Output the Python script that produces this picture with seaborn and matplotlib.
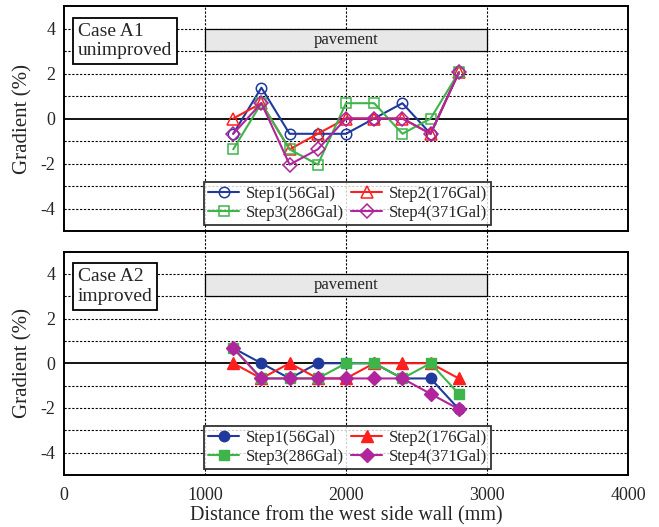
import numpy as np
import pandas as pd
import matplotlib.pyplot as plt
import seaborn as sns
from matplotlib.patches import Rectangle

sns.set_style('white')
plt.rcParams['font.family'] = ['Liberation Serif', 'DejaVu Serif']
plt.rcParams['axes.unicode_minus'] = False

# measuring points (mm from the west side wall)
distance = [1200, 1400, 1600, 1800, 2000, 2200, 2400, 2600, 2800]
steps = ['Step1(56Gal)', 'Step2(176Gal)', 'Step3(286Gal)', 'Step4(371Gal)']

# Case A1 unimproved, gradient (%)
a1_step1 = [-0.68, 1.37, -0.68, -0.68, -0.68, 0.0, 0.68, -0.68, 2.05]
a1_step2 = [0.0, 0.68, -1.37, -0.68, 0.0, 0.0, 0.0, -0.68, 2.05]
a1_step3 = [-1.37, 0.68, -1.37, -2.05, 0.68, 0.68, -0.68, 0.0, 2.05]
a1_step4 = [-0.68, 0.68, -2.05, -1.37, 0.0, 0.0, 0.0, -0.68, 2.05]

# Case A2 improved, gradient (%)
a2_step1 = [0.68, 0.0, -0.68, 0.0, 0.0, 0.0, -0.68, -0.68, -2.05]
a2_step2 = [0.0, -0.68, 0.0, -0.68, -0.68, 0.0, 0.0, 0.0, -0.68]
a2_step3 = [0.68, -0.68, -0.68, -0.68, 0.0, 0.0, -0.68, 0.0, -1.37]
a2_step4 = [0.68, -0.68, -0.68, -0.68, -0.68, -0.68, -0.68, -1.37, -2.05]

colors = ['#1f3a9c', '#ff1f1f', '#3db54a', '#b0259c']
markers = ['o', '^', 's', 'D']
msizes = [7.5, 8, 7.5, 7.5]

fig = plt.figure(figsize=(6.59, 5.27), dpi=100)
ax1 = fig.add_axes([64 / 659, 1 - 231 / 527, 564 / 659, 225 / 527])
ax2 = fig.add_axes([64 / 659, 1 - 475 / 527, 564 / 659, 223.5 / 527])


def draw_panel(ax, series, filled, case_text):
    for i, vals in enumerate(series):
        df = pd.DataFrame({'x': distance, 'y': vals})
        sns.lineplot(data=df, x='x', y='y', ax=ax, color=colors[i], marker=markers[i],
                     markersize=msizes[i], linewidth=1.5,
                     markerfacecolor=colors[i] if filled else 'none',
                     markeredgecolor=colors[i], markeredgewidth=1.0 if filled else 1.1,
                     label=steps[i], zorder=5 + i)

    ax.set_xlim(0, 4000)
    ax.set_ylim(-5, 5)
    ax.set_xticks([0, 1000, 2000, 3000, 4000])
    ax.set_yticks([-4, -2, 0, 2, 4])
    for yv in [-4, -3, -2, -1, 1, 2, 3, 4]:
        ax.axhline(yv, color='black', lw=0.8, ls=(0, (2, 1.5)), zorder=1)
    ax.axhline(0, color='black', lw=1.3, zorder=2)
    for xv in [1000, 2000, 3000]:
        ax.axvline(xv, color='black', lw=0.8, ls=(0, (2, 1.5)), zorder=1)
    ax.tick_params(length=0, labelsize=13, pad=6)
    ax.tick_params(axis='x', pad=9)
    for sp in ax.spines.values():
        sp.set_linewidth(1.4)
        sp.set_color('black')
    ax.set_ylabel('Gradient (%)', fontsize=15, labelpad=6)
    ax.set_xlabel('')

    # pavement band
    ax.add_patch(Rectangle((1000, 3), 2000, 1, facecolor='#e8e8e8', edgecolor='black',
                           lw=0.9, zorder=3))
    ax.text(2000, 3.5, 'pavement', ha='center', va='center', fontsize=12, zorder=4)

    ax.text(0.024, 0.925, case_text, transform=ax.transAxes, ha='left', va='top',
            fontsize=14, linespacing=1.2, zorder=6,
            bbox=dict(boxstyle='square,pad=0.25', fc='white', ec='black', lw=1.3))

    # row-wise legend order: Step1 Step2 / Step3 Step4
    h, l = ax.get_legend_handles_labels()
    order = [0, 2, 1, 3]
    leg = ax.legend([h[k] for k in order], [l[k] for k in order],
                    loc='lower center', bbox_to_anchor=(0.503, 0.027), ncol=2,
                    fontsize=12, frameon=True, fancybox=False, borderaxespad=0,
                    handlelength=1.85, columnspacing=0.45, labelspacing=0.15,
                    handletextpad=0.4, borderpad=0.25)
    leg.get_frame().set_edgecolor('black')
    leg.get_frame().set_linewidth(1.3)
    leg.set_zorder(10)


draw_panel(ax1, [a1_step1, a1_step2, a1_step3, a1_step4], False, 'Case A1\nunimproved')
draw_panel(ax2, [a2_step1, a2_step2, a2_step3, a2_step4], True, 'Case A2\nimproved')

ax1.tick_params(labelbottom=False)
# vertical grid continues through the gap between the panels
for xv in [1000, 2000, 3000]:
    ax1.plot([xv, xv], [-5, -5.95], color='black', lw=0.8, ls=(0, (2, 1.5)), clip_on=False)

ax2.set_xlabel('Distance from the west side wall (mm)', fontsize=14.5, labelpad=1)

plt.savefig('out.png', dpi=100)
